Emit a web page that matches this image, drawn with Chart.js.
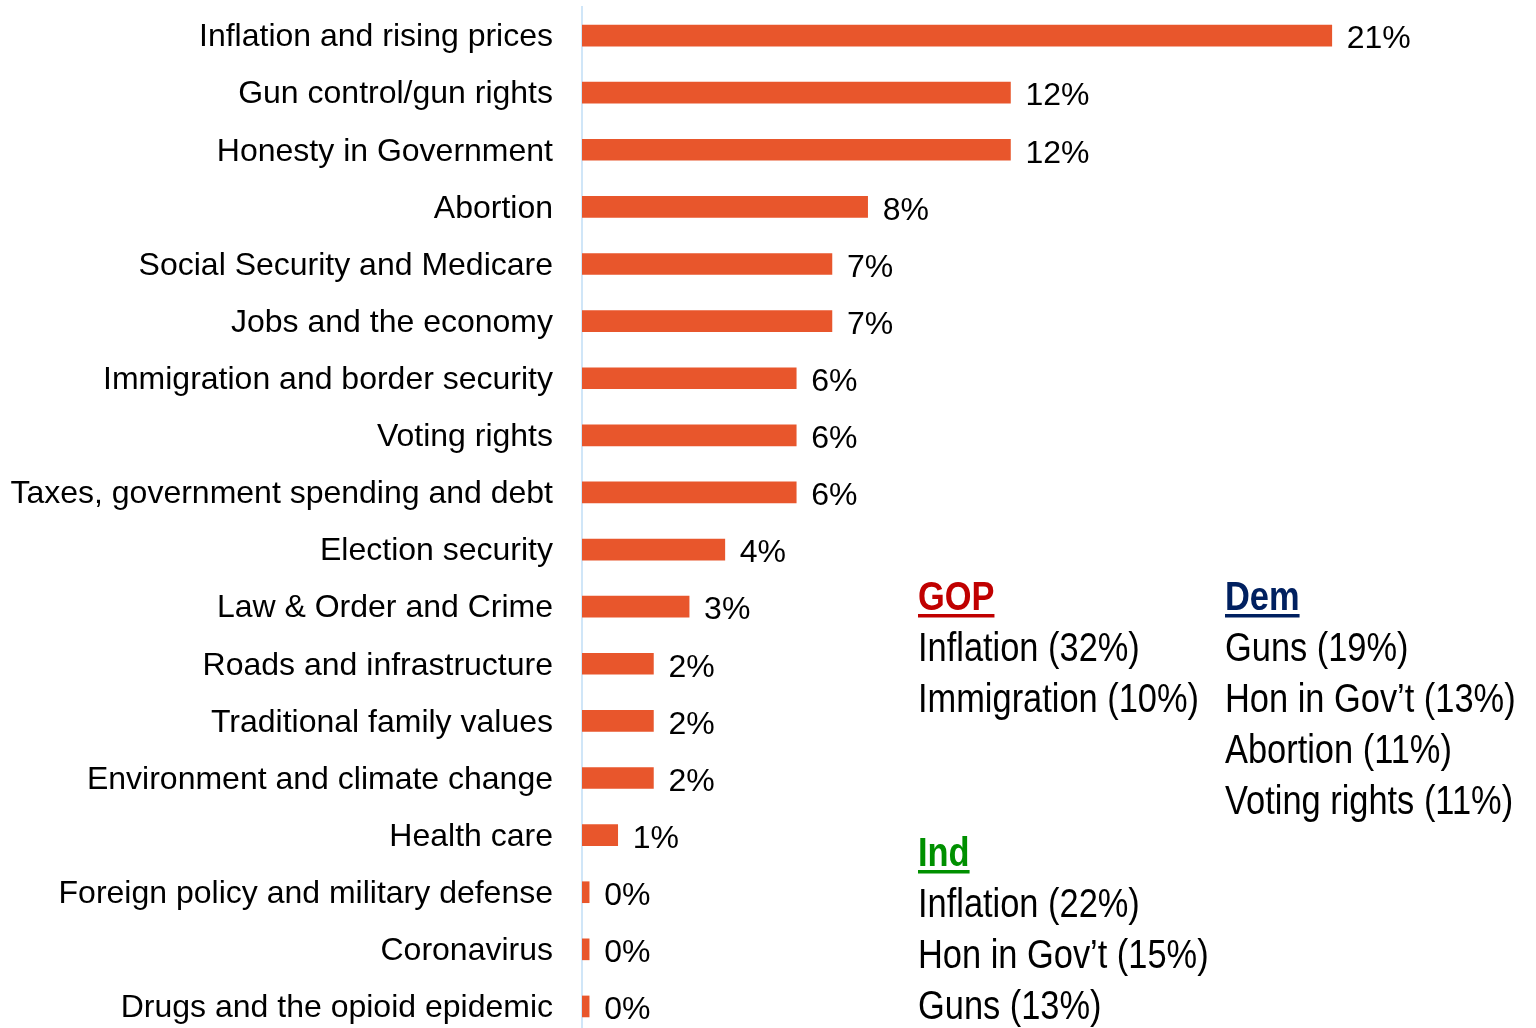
<!DOCTYPE html>
<html>
<head>
<meta charset="utf-8">
<script src="https://cdn.jsdelivr.net/npm/chart.js@4.4.1/dist/chart.umd.min.js"></script>
<style>
  html, body { margin: 0; padding: 0; background: #ffffff; overflow: hidden; }
  #wrap { width: 1536px; height: 1028px; overflow: hidden; }
  canvas { display: block; }
</style>
</head>
<body>
<div id="wrap"><canvas id="c" width="1536" height="1035"></canvas></div>
<script>
// ---- Data ----
const categories = [
  'Inflation and rising prices',
  'Gun control/gun rights',
  'Honesty in Government',
  'Abortion',
  'Social Security and Medicare',
  'Jobs and the economy',
  'Immigration and border security',
  'Voting rights',
  'Taxes, government spending and debt',
  'Election security',
  'Law & Order and Crime',
  'Roads and infrastructure',
  'Traditional family values',
  'Environment and climate change',
  'Health care',
  'Foreign policy and military defense',
  'Coronavirus',
  'Drugs and the opioid epidemic'
];
const values = [21, 12, 12, 8, 7, 7, 6, 6, 6, 4, 3, 2, 2, 2, 1, 0.2, 0.2, 0.2];

const gopTitle = 'GOP';
const gopItems = ['Inflation (32%)', 'Immigration (10%)'];
const demTitle = 'Dem';
const demItems = ['Guns (19%)', 'Hon in Gov\u2019t (13%)', 'Abortion (11%)', 'Voting rights (11%)'];
const indTitle = 'Ind';
const indItems = ['Inflation (22%)', 'Hon in Gov\u2019t (15%)', 'Guns (13%)'];

// ---- Styles ----
const BAR_COLOR = '#E8562C';
const FONT = '"Liberation Sans", Arial, sans-serif';

const valueLabels = {
  id: 'valueLabels',
  afterDatasetsDraw(chart) {
    const ctx = chart.ctx;
    const meta = chart.getDatasetMeta(0);
    ctx.save();
    ctx.font = '32px ' + FONT;
    ctx.fillStyle = '#000000';
    ctx.textAlign = 'left';
    ctx.textBaseline = 'middle';
    meta.data.forEach((bar, i) => {
      ctx.fillText(Math.round(values[i]) + '%', bar.x + 15, bar.y + 4);
    });
    ctx.restore();
  }
};

function drawBlock(ctx, x, y0, title, color, items) {
  const sx = 0.86, lh = 51;
  ctx.save();
  ctx.textAlign = 'left';
  ctx.textBaseline = 'alphabetic';
  ctx.save();
  ctx.translate(x, y0);
  ctx.scale(sx, 1);
  ctx.font = 'bold 40px ' + FONT;
  ctx.fillStyle = color;
  ctx.fillText(title, 0, 0);
  const w = ctx.measureText(title).width;
  ctx.fillRect(0, 4, w, 3.5);
  ctx.restore();
  items.forEach((t, i) => {
    ctx.save();
    ctx.translate(x, y0 + lh * (i + 1));
    ctx.scale(sx, 1);
    ctx.font = '40px ' + FONT;
    ctx.fillStyle = '#000000';
    ctx.fillText(t, 0, 0);
    ctx.restore();
  });
  ctx.restore();
}

const partyText = {
  id: 'partyText',
  afterDraw(chart) {
    const ctx = chart.ctx;
    drawBlock(ctx, 918, 610, gopTitle, '#C00000', gopItems);
    drawBlock(ctx, 1225, 610, demTitle, '#002060', demItems);
    drawBlock(ctx, 918, 866, indTitle, '#009000', indItems);
  }
};

new Chart(document.getElementById('c'), {
  type: 'bar',
  data: {
    labels: categories,
    datasets: [{
      data: values,
      backgroundColor: BAR_COLOR,
      borderWidth: 0,
      barThickness: 21
    }]
  },
  options: {
    indexAxis: 'y',
    responsive: false,
    animation: false,
    layout: { padding: { top: 7, right: 0, bottom: 0, left: 0 } },
    plugins: { legend: { display: false }, tooltip: { enabled: false } },
    scales: {
      x: {
        display: false,
        min: 0,
        max: 26.72,
        grid: { display: false }
      },
      y: {
        grid: { display: false, drawTicks: false },
        border: { display: true, color: '#D0E6F8', width: 2 },
        ticks: {
          autoSkip: false,
          padding: 29,
          labelOffset: 2,
          color: '#000000',
          font: { family: FONT, size: 32 }
        },
        afterFit(scale) {
          scale.width = 582;
          scale.paddingTop = 0;
          scale.paddingBottom = 0;
        }
      }
    }
  },
  plugins: [valueLabels, partyText]
});
</script>
</body>
</html>
